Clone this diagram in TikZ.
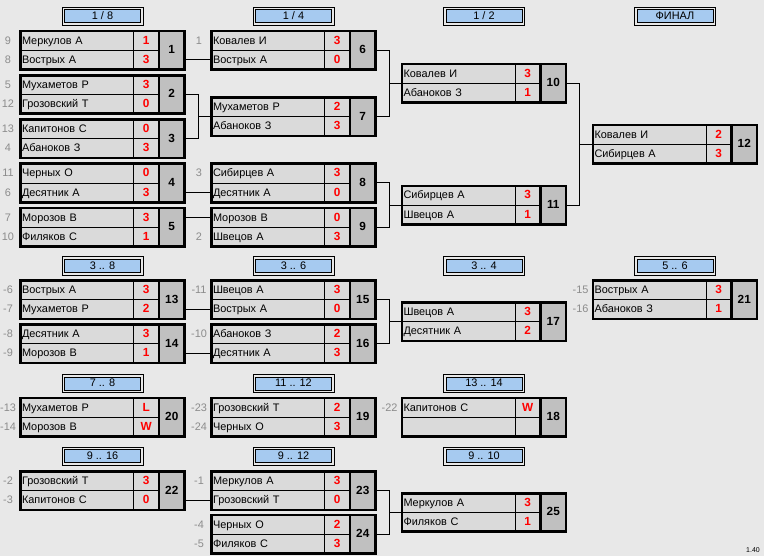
\documentclass[tikz,border=0pt]{standalone}
\usepackage{fontspec}
\setmainfont{Liberation Sans}
\definecolor{bgcol}{HTML}{E8E8E8}
\definecolor{cellgray}{HTML}{DADADA}
\definecolor{numgray}{HTML}{C0C0C0}
\definecolor{hdrblue}{HTML}{A6CAF0}
\definecolor{seedgray}{HTML}{8C8C8C}
\newcommand\namefont{\fontsize{10.9bp}{12bp}\selectfont}
\newcommand\boldfnt{\fontsize{11.8bp}{12bp}\selectfont\bfseries}
\tikzset{
 cell/.style={anchor=north west, draw=black, line width=0.8bp, outer sep=0pt, inner sep=0pt, minimum height=19.25bp, text height=7.8bp, text depth=1bp},
 namecell/.style={cell, fill=cellgray, minimum width=113bp, text width=110bp, inner xsep=1.5bp, align=left, font=\namefont},
 scorecell/.style={cell, fill=cellgray, minimum width=25.5bp, text=red, font=\boldfnt},
 numcell/.style={cell, fill=numgray, minimum width=25.5bp, minimum height=38.5bp, font=\boldfnt},
 boxline/.style={draw=black, line width=2.6bp},
 conn/.style={draw=black, line width=1bp},
 hdr/.style={draw=black, line width=1bp, fill=hdrblue, minimum width=76bp, minimum height=13bp, inner sep=0pt, outer sep=0pt, text height=7.8bp, text depth=1bp, font=\namefont},
 hdrframe/.style={draw=black, line width=1bp},
 seed/.style={text=seedgray, font=\namefont, inner sep=0pt, text height=7.8bp, text depth=1bp},
}
\newcommand\mtch[8]{%
 \node[namecell] (#1a) at (#2,#3) {#4};
 \node[namecell] (#1b) at (#1a.south west) {#6};
 \node[scorecell] (#1s) at (#1a.north east) {#5};
 \node[scorecell] (#1t) at (#1s.south west) {#7};
 \node[numcell] (#1n) at (#1s.north east) {#8};
 \draw[boxline] (#1a.north west) rectangle (#1n.south east);
 \draw[boxline] (#1n.north west) -- (#1n.south west);
}
\newcommand\hd[3]{%
 \node[hdr] (#1) at (#2) {#3};
 \draw[hdrframe] ([shift={(-2.5,-2.5)}]#1.north west) rectangle ([shift={(2.5,2.5)}]#1.south east);
}
\newcommand\sd[2]{\node[seed] (sd#1) at ([xshift=-12.5bp]#1.west) {#2};}
\begin{document}
\begin{tikzpicture}[x=1bp,y=-1bp]
\fill[bgcol] (0,0) rectangle (764,556);
\useasboundingbox (0,0) rectangle (764,556);
% headers
\hd{h1}{102.5,16.5}{1 / 8}
\hd{h2}{293.5,16.5}{1 / 4}
\hd{h3}{484,16.5}{1 / 2}
\hd{h4}{675,16.5}{ФИНАЛ}
\hd{h5}{102.5,266}{3 .. 8}
\hd{h6}{293.5,266}{3 .. 6}
\hd{h7}{484,266}{3 .. 4}
\hd{h8}{675,266}{5 .. 6}
\hd{h9}{102.5,383.5}{7 .. 8}
\hd{h10}{293.5,383.5}{11 .. 12}
\hd{h11}{484,383.5}{13 .. 14}
\hd{h12}{102.5,456}{9 .. 16}
\hd{h13}{293.5,456}{9 .. 12}
\hd{h14}{484,456}{9 .. 10}
% matches
\mtch{m1}{20.5}{31}{Меркулов А}{1}{Вострых А}{3}{1}
\mtch{m2}{20.5}{75.25}{Мухаметов Р}{3}{Грозовский Т}{0}{2}
\mtch{m3}{20.5}{119.5}{Капитонов С}{0}{Абаноков З}{3}{3}
\mtch{m4}{20.5}{163.75}{Черных О}{0}{Десятник А}{3}{4}
\mtch{m5}{20.5}{208}{Морозов В}{3}{Филяков С}{1}{5}
\mtch{m6}{211.5}{31}{Ковалев И}{3}{Вострых А}{0}{6}
\mtch{m7}{211.5}{97.375}{Мухаметов Р}{2}{Абаноков З}{3}{7}
\mtch{m8}{211.5}{163.75}{Сибирцев А}{3}{Десятник А}{0}{8}
\mtch{m9}{211.5}{208}{Морозов В}{0}{Швецов А}{3}{9}
\mtch{m10}{402}{64.2}{Ковалев И}{3}{Абаноков З}{1}{10}
\mtch{m11}{402}{185.9}{Сибирцев А}{3}{Швецов А}{1}{11}
\mtch{m12}{593}{125}{Ковалев И}{2}{Сибирцев А}{3}{12}
\mtch{m13}{20.5}{280.5}{Вострых А}{3}{Мухаметов Р}{2}{13}
\mtch{m14}{20.5}{324.5}{Десятник А}{3}{Морозов В}{1}{14}
\mtch{m15}{211.5}{280.5}{Швецов А}{3}{Вострых А}{0}{15}
\mtch{m16}{211.5}{324.5}{Абаноков З}{2}{Десятник А}{3}{16}
\mtch{m17}{402}{302.5}{Швецов А}{3}{Десятник А}{2}{17}
\mtch{m21}{593}{280.5}{Вострых А}{3}{Абаноков З}{1}{21}
\mtch{m20}{20.5}{398}{Мухаметов Р}{L}{Морозов В}{W}{20}
\mtch{m19}{211.5}{398}{Грозовский Т}{2}{Черных О}{3}{19}
\mtch{m18}{402}{398}{Капитонов С}{W}{}{}{18}
\mtch{m22}{20.5}{471.5}{Грозовский Т}{3}{Капитонов С}{0}{22}
\mtch{m23}{211.5}{471.5}{Меркулов А}{3}{Грозовский Т}{0}{23}
\mtch{m24}{211.5}{515}{Черных О}{2}{Филяков С}{3}{24}
\mtch{m25}{402}{493.25}{Меркулов А}{3}{Филяков С}{1}{25}
% seeds
\sd{m1a}{9}\sd{m1b}{8}\sd{m2a}{5}\sd{m2b}{12}\sd{m3a}{13}\sd{m3b}{4}
\sd{m4a}{11}\sd{m4b}{6}\sd{m5a}{7}\sd{m5b}{10}
\sd{m6a}{1}\sd{m8a}{3}\sd{m9b}{2}
\sd{m13a}{-6}\sd{m13b}{-7}\sd{m14a}{-8}\sd{m14b}{-9}
\sd{m15a}{-11}\sd{m16a}{-10}\sd{m21a}{-15}\sd{m21b}{-16}
\sd{m20a}{-13}\sd{m20b}{-14}\sd{m19a}{-23}\sd{m19b}{-24}\sd{m18a}{-22}
\sd{m22a}{-2}\sd{m22b}{-3}\sd{m23a}{-1}\sd{m24a}{-4}\sd{m24b}{-5}
% connectors
\draw[conn] (m1n.east |- m6b.west) -- (m6b.west);
\draw[conn] (m2n.east) -- ++(13.5,0) coordinate (j7) |- (m3n.east);
\draw[conn] (j7 |- m7a.south west) -- (m7a.south west);
\draw[conn] (m4n.east |- m8b.west) -- (m8b.west);
\draw[conn] (m5n.east |- m9a.west) -- (m9a.west);
\draw[conn] (m6n.east) -- ++(13.5,0) coordinate (j10) |- (m7n.east);
\draw[conn] (j10 |- m10a.south west) -- (m10a.south west);
\draw[conn] (m8n.east) -- ++(13.5,0) coordinate (j11) |- (m9n.east);
\draw[conn] (j11 |- m11a.south west) -- (m11a.south west);
\draw[conn] (m10n.east) -- ++(13.5,0) coordinate (j12) |- (m11n.east);
\draw[conn] (j12 |- m12a.south west) -- (m12a.south west);
\draw[conn] (m13n.east |- m15b.west) -- (m15b.west);
\draw[conn] (m14n.east |- m16b.west) -- (m16b.west);
\draw[conn] (m15n.east) -- ++(13.5,0) coordinate (j17) |- (m16n.east);
\draw[conn] (j17 |- m17a.south west) -- (m17a.south west);
\draw[conn] (m22n.east |- m23b.west) -- (m23b.west);
\draw[conn] (m23n.east) -- ++(13.5,0) coordinate (j25) |- (m24n.east);
\draw[conn] (j25 |- m25a.south west) -- (m25a.south west);
\node[font=\fontsize{7bp}{8bp}\selectfont, inner sep=0pt] (ver) at (753,550.5) {1.40};
\end{tikzpicture}
\end{document}
